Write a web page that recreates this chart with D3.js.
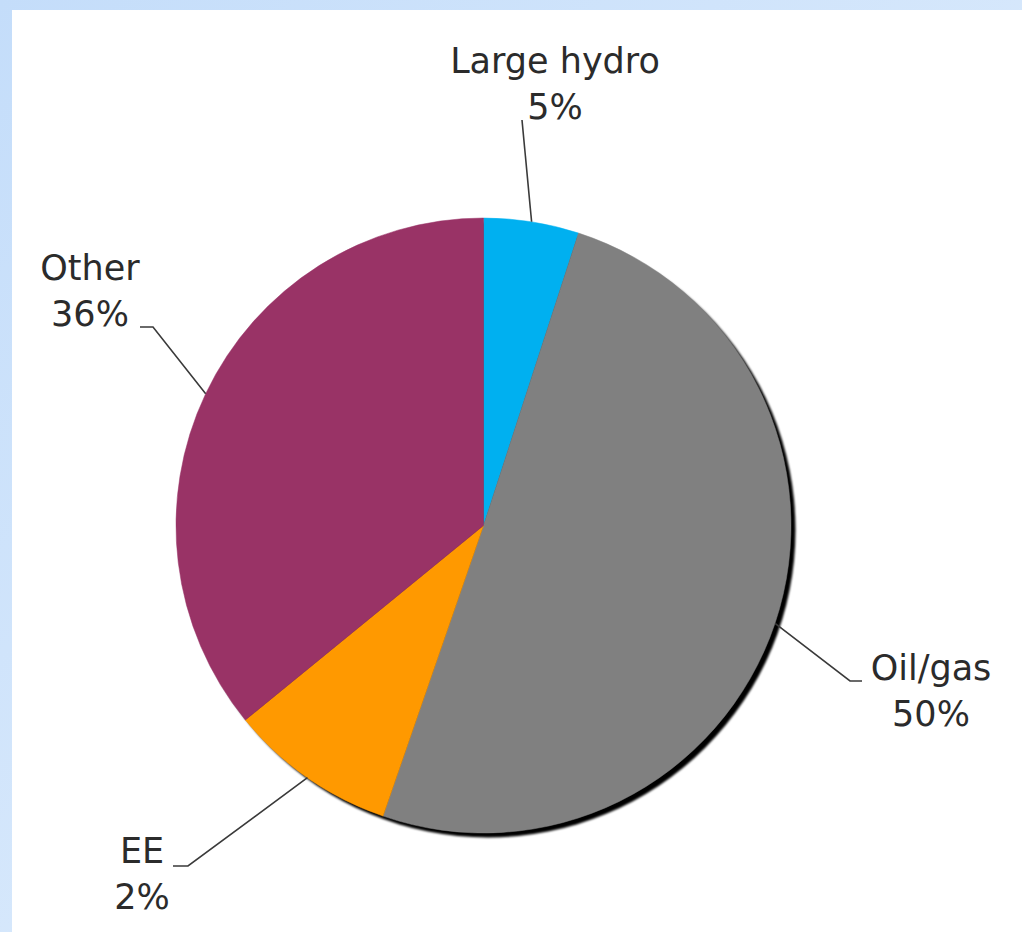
<!DOCTYPE html>
<html>
<head>
<meta charset="utf-8">
<script src="https://cdn.jsdelivr.net/npm/d3@7"></script>
<style>
  html, body { margin: 0; padding: 0; }
  body { width: 1022px; height: 932px; overflow: hidden; }
</style>
</head>
<body>
<svg id="chart" width="1022" height="932"></svg>
<script>
// ---- data ----
const categories = ["Large hydro", "Oil/gas", "EE", "Other"];
const values = [5.0, 50.3, 8.8, 35.9];          // drawn shares of the pie
const percentLabels = ["5%", "50%", "2%", "36%"]; // label text as printed
const colors = ["#00b0f0", "#808080", "#ff9900", "#993366"];

const svg = d3.select("#chart");
const W = 1022, H = 932;

// background
const defs = svg.append("defs");
const grad = defs.append("linearGradient").attr("id", "bg")
  .attr("x1", "0%").attr("y1", "0%").attr("x2", "100%").attr("y2", "100%");
grad.append("stop").attr("offset", "0%").attr("stop-color", "#c4ddfa");
grad.append("stop").attr("offset", "100%").attr("stop-color", "#e6f1fd");
svg.append("rect").attr("width", W).attr("height", H).attr("fill", "url(#bg)");
svg.append("rect").attr("x", 12).attr("y", 10).attr("width", W - 12).attr("height", H - 10).attr("fill", "#ffffff");

const blur = defs.append("filter").attr("id", "shadowBlur")
  .attr("x", "-10%").attr("y", "-10%").attr("width", "120%").attr("height", "120%");
blur.append("feGaussianBlur").attr("stdDeviation", 1.0);

// pie geometry
const cx = 483.5, cy = 525.5, r = 307.5;
const g = svg.append("g").attr("transform", `translate(${cx},${cy})`);

const pie = d3.pie().sort(null).value(d => d.value);
const data = categories.map((c, i) => ({ name: c, value: values[i], pct: percentLabels[i], color: colors[i] }));
const arcs = pie(data);
const arc = d3.arc().innerRadius(0).outerRadius(r);

// shadow
g.append("circle").attr("cx", 4.5).attr("cy", 4.5).attr("r", r)
  .attr("fill", "#000").attr("filter", "url(#shadowBlur)");

g.selectAll("path.slice").data(arcs).enter().append("path")
  .attr("class", "slice")
  .attr("d", arc)
  .attr("fill", d => d.data.color)
  .attr("stroke", d => d.data.color)
  .attr("stroke-width", 0.5);

// labels: [textCenterX, firstBaselineY, leader path points after the edge point]
const labelLayout = {
  "Large hydro": { x: 555, y: 73, pts: [[522, 120]] },
  "Other":       { x: 90,  y: 280, pts: [[153, 327], [140, 327]] },
  "Oil/gas":     { x: 931, y: 680, pts: [[850, 681], [862, 681]] },
  "EE":          { x: 142, y: 863, pts: [[188, 866], [173, 866]] }
};
const lineGap = 46;

arcs.forEach(a => {
  const L = labelLayout[a.data.name];
  const mid = (a.startAngle + a.endAngle) / 2;
  const ex = cx + r * Math.sin(mid), ey = cy - r * Math.cos(mid);
  const pts = [[ex, ey]].concat(L.pts);
  svg.append("path")
    .attr("d", d3.line()(pts))
    .attr("fill", "none").attr("stroke", "#3a3a3a").attr("stroke-width", 1.6);
  const t = svg.append("text")
    .attr("font-family", "DejaVu Sans, Verdana, sans-serif")
    .attr("font-size", 35)
    .attr("fill", "#2b2b2b")
    .attr("text-anchor", "middle");
  t.append("tspan").attr("x", L.x).attr("y", L.y).text(a.data.name);
  t.append("tspan").attr("x", L.x).attr("y", L.y + lineGap).text(a.data.pct);
});
</script>
</body>
</html>
